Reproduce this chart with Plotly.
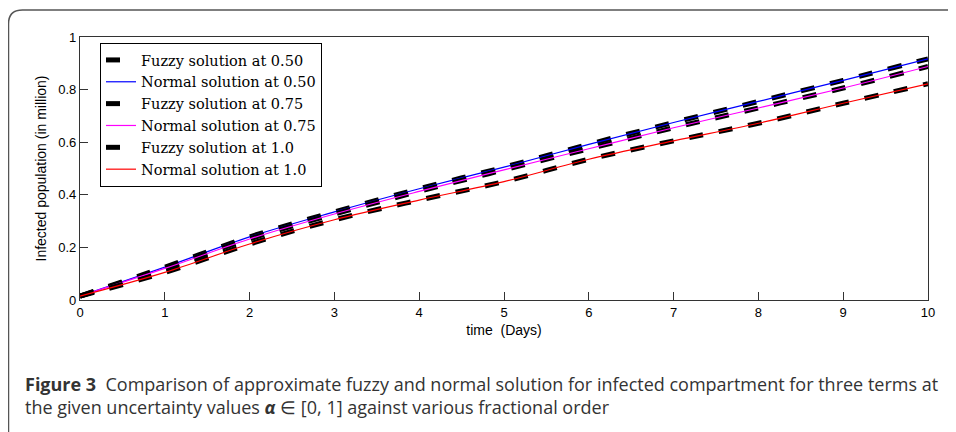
import plotly.graph_objects as go

t = [0, 1, 2, 3, 4, 5, 6, 7, 8, 9, 10]
normal_050 = [0.015, 0.125, 0.240, 0.335, 0.423, 0.505, 0.592, 0.675, 0.755, 0.835, 0.917]
normal_075 = [0.015, 0.120, 0.232, 0.327, 0.413, 0.495, 0.575, 0.655, 0.730, 0.806, 0.888]
normal_100 = [0.015, 0.105, 0.213, 0.305, 0.380, 0.450, 0.535, 0.605, 0.672, 0.748, 0.822]
fuzzy_050 = normal_050
fuzzy_075 = normal_075
fuzzy_100 = normal_100

x_ticks = list(range(0, 11))
y_ticks = [0, 0.2, 0.4, 0.6, 0.8, 1]
y_tick_labels = ["0", "0.2", "0.4", "0.6", "0.8", "1"]

# page body has an 8px margin: the figure starts at (8, 8) in the window
OFF = 8
W, H = 956 - OFF, 432 - OFF
PL, PR, PT, PB = 80, 928, 37, 300          # plot area in window pixels
L, R, T, B = PL - OFF, 956 - PR, PT - OFF, 432 - PB
pw, ph = PR - PL, PB - PT

def px(xp):
    return (xp - PL) / pw

def py(yp):
    return (PB - yp) / ph

fig = go.Figure()

series = [
    ("Fuzzy solution at 0.50", "Normal solution at 0.50", fuzzy_050, normal_050, "#0000ff"),
    ("Fuzzy solution at 0.75", "Normal solution at 0.75", fuzzy_075, normal_075, "#ff00ff"),
    ("Fuzzy solution at 1.0", "Normal solution at 1.0", fuzzy_100, normal_100, "#ff0000"),
]

for fname, nname, fy, ny, col in series:
    fig.add_trace(go.Scatter(
        x=t, y=fy, mode="lines", name=fname, line_shape="spline",
        line=dict(color="black", width=5, dash="14px,16px"),
    ))
    fig.add_trace(go.Scatter(
        x=t, y=ny, mode="lines", name=nname, line_shape="spline",
        line=dict(color=col, width=1.2),
    ))

sans = "Liberation Sans, Arial, sans-serif"
axis_common = dict(
    showline=True, mirror=True, linecolor="#333333", linewidth=1.3,
    ticks="inside", ticklen=8, tickwidth=1, tickcolor="#333333",
    showgrid=False, zeroline=False,
    tickfont=dict(family=sans, size=13, color="black"),
)

fig.update_xaxes(range=[0, 10], tickvals=x_ticks, ticktext=[str(v) for v in x_ticks],
                 title=dict(text="time &nbsp;(Days)", standoff=6,
                            font=dict(family=sans, size=14, color="black")),
                 **axis_common)
fig.update_yaxes(range=[0, 1], tickvals=y_ticks, ticktext=y_tick_labels,
                 title=dict(text="Infected population (in million)", standoff=8,
                            font=dict(family=sans, size=14, color="black")),
                 **axis_common)

# card border (rounded top-left corner, open to right and bottom)
rx, ry = 14 / pw, 14 / ph
x0, ytop = px(8.5), py(10)
path = (f"M {x0},{py(440)} L {x0},{ytop - ry} Q {x0},{ytop} {x0 + rx},{ytop} "
        f"L {px(970)},{ytop}")
fig.add_shape(type="path", path=path, xref="paper", yref="paper",
              line=dict(color="#555555", width=1.5))

cap_font = dict(family="Open Sans, Noto Sans, sans-serif", size=18, color="#333333")
fig.add_annotation(
    text="<b>Figure 3</b>&nbsp; Comparison of approximate fuzzy and normal solution for infected compartment for three terms at",
    xref="paper", yref="paper", x=px(23), y=py(384), xanchor="left", yanchor="middle",
    showarrow=False, font=cap_font, align="left")
fig.add_annotation(
    text="the given uncertainty values <b><i>α</i></b> ∈ [0, 1] against various fractional order",
    xref="paper", yref="paper", x=px(23), y=py(407), xanchor="left", yanchor="middle",
    showarrow=False, font=cap_font, align="left")

fig.update_layout(
    width=W, height=H,
    margin=dict(l=L, r=R, t=T, b=B),
    paper_bgcolor="white", plot_bgcolor="white",
    legend=dict(
        x=px(100), y=py(43), xanchor="left", yanchor="top",
        bgcolor="white", bordercolor="black", borderwidth=1,
        font=dict(family="DejaVu Serif, Liberation Serif, serif", size=14.5, color="black"),
        tracegroupgap=0, itemwidth=30,
    ),
    showlegend=True,
)

fig.write_html("out.html")
